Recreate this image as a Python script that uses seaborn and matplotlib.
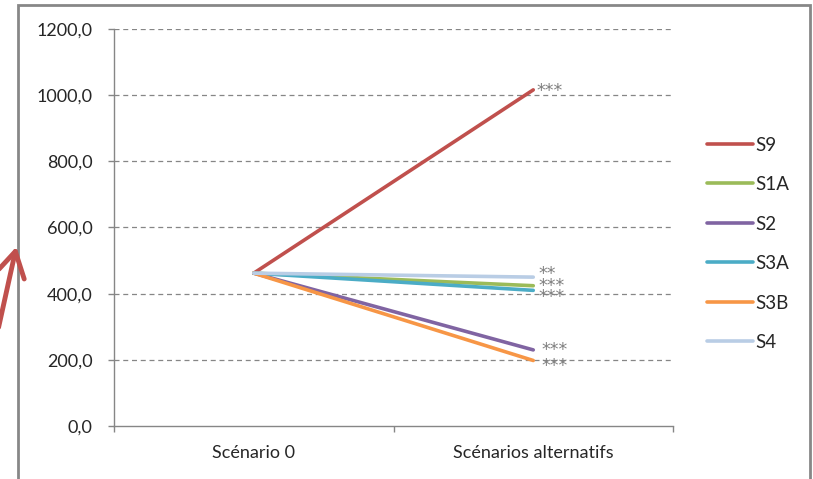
import matplotlib
matplotlib.use("Agg")
import matplotlib.pyplot as plt
from matplotlib.patches import Rectangle, FancyArrowPatch
import numpy as np
import pandas as pd
import seaborn as sns

# data
categories = ["Scénario 0", "Scénarios alternatifs"]
series = ["S9", "S1A", "S2", "S3A", "S3B", "S4"]
start_vals = [462, 462, 462, 462, 462, 462]
end_vals = [1016, 424, 230, 410, 198, 450]
stars = ["***", "***", "***", "***", "***", "**"]
colors = ["#C0504D", "#9BBB59", "#8064A2", "#4BACC6", "#F79646", "#B9CDE5"]
yticks = [0, 200, 400, 600, 800, 1000, 1200]

rows = []
for s, a, b in zip(series, start_vals, end_vals):
    rows.append({"serie": s, "pos": 0, "val": a})
    rows.append({"serie": s, "pos": 1, "val": b})
df = pd.DataFrame(rows)

sns.set_style("white")
plt.rcParams["font.family"] = ["Lato", "DejaVu Sans"]

fig = plt.figure(figsize=(8.13, 4.79), dpi=100)
ax = fig.add_axes([114 / 813, 1 - 426 / 479, (673 - 114) / 813, (426 - 29) / 479])

sns.lineplot(data=df, x="pos", y="val", hue="serie", hue_order=series,
             palette=colors, linewidth=2.6, ax=ax, legend=True, sort=False)

# significance stars next to the line ends
star_kw = dict(textcoords="offset points", ha="left", va="center", fontsize=12.5,
               color="#7F7F7F", family=["DejaVu Sans"])
lookup = dict(zip(series, zip(stars, end_vals)))
ax.annotate(lookup["S9"][0], (1, lookup["S9"][1]), xytext=(2, -1), **star_kw)
# lines ending close together get their stars stacked in one block
for group, dx, dy, ls in [(["S4", "S1A", "S3A"], 4, -1, 0.55),
                          (["S2", "S3B"], 6, -2, 0.8)]:
    ymid = np.mean([lookup[s][1] for s in group])
    ax.annotate("\n".join(lookup[s][0] for s in group), (1, ymid),
                xytext=(dx, dy), linespacing=ls, **star_kw)

ax.set_xlim(-0.5, 1.5)
ax.set_ylim(0, 1200)
ax.set_yticks(yticks)
ax.set_yticklabels([f"{v:.1f}".replace(".", ",") for v in yticks])
ax.set_xticks([-0.5, 0.5, 1.5])
ax.set_xticklabels([])
ax.set_xticks([0, 1], minor=True)
ax.set_xticklabels(categories, minor=True)
ax.tick_params(axis="x", which="major", length=4.5, width=1, color="#868686",
               direction="out", bottom=True)
ax.tick_params(axis="x", which="minor", length=0, pad=14, labelsize=13,
               labelcolor="#262626")
ax.tick_params(axis="y", length=4.5, width=1, color="#868686", direction="out",
               left=True, pad=11, labelsize=13, labelcolor="#262626")
ax.set_xlabel("")
ax.set_ylabel("")

for y in yticks[1:]:
    ax.axhline(y, color="#868686", lw=0.9, ls=(0, (4, 3)), zorder=0)

for side in ["top", "right"]:
    ax.spines[side].set_visible(False)
for side in ["left", "bottom"]:
    ax.spines[side].set_color("#868686")
    ax.spines[side].set_linewidth(1)

handles, labels = ax.get_legend_handles_labels()
ax.legend_.remove()
fig.legend(handles, labels, loc="upper left", bbox_to_anchor=(699 / 813, 1 - 129 / 479),
           frameon=False, fontsize=13.5, labelspacing=1.2, handlelength=2.5,
           handletextpad=0.1, borderaxespad=0)

# chart border
fig.patches.append(Rectangle((18 / 813, -0.05), (810 - 18) / 813, 1.05 - 5 / 479,
                             transform=fig.transFigure, fill=False,
                             edgecolor="#878787", linewidth=2))

# red arrow outside the chart frame
fig.patches.append(FancyArrowPatch((-2 / 813, 1 - 330 / 479), (17 / 813, 1 - 244 / 479),
                                   transform=fig.transFigure, arrowstyle="->,head_length=12,head_width=7",
                                   color="#C0504D", linewidth=3.5, mutation_scale=1.5))

fig.savefig("out.png", dpi=100)
